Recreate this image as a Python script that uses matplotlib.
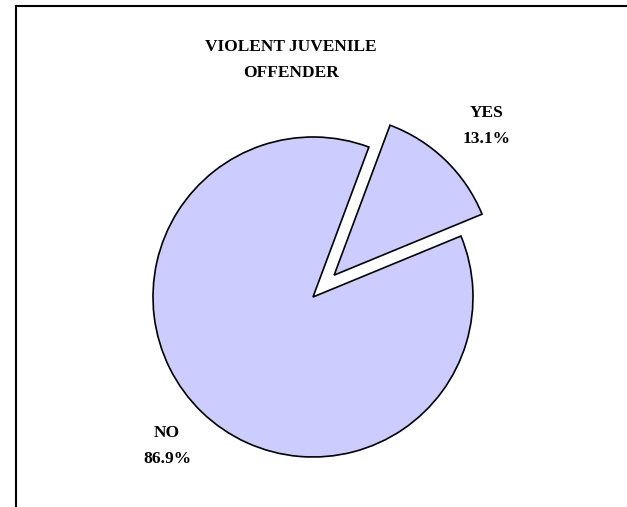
import matplotlib.pyplot as plt
from matplotlib.lines import Line2D

labels = ["YES", "NO"]
shares = [13.1, 86.9]
title = "VIOLENT JUVENILE\nOFFENDER"

W, H = 627, 507
cx, cy, r = 313, 297, 160   # pie centre and radius in pixels

def px(x, y):
    return (x - cx) / r, (cy - y) / r

fig = plt.figure(figsize=(W / 100, H / 100), dpi=100)
ax = fig.add_axes([0, 0, 1, 1])

ax.pie(shares, explode=[0.19, 0], startangle=22.4, counterclock=True,
       colors=["#CCCCFF", "#CCCCFF"],
       wedgeprops=dict(edgecolor="black", linewidth=1.2))

# pie() resets the limits, so set them afterwards
ax.set_xlim(-cx / r, (W - cx) / r)
ax.set_ylim(-(H - cy) / r, cy / r)
ax.set_aspect("equal")
ax.axis("off")

font = dict(family="Liberation Serif", fontweight="bold", fontsize=12.5,
            ha="center", va="center", linespacing=1.85)
label_pos = [(487, 126), (167, 446)]
for lab, val, (x, y) in zip(labels, shares, label_pos):
    ax.text(*px(x, y), f"{lab}\n{val}%", **font)

ax.text(*px(291, 60), title, **font)

# frame (only top and left edges visible)
fig.add_artist(Line2D([16 / W, 16 / W], [0, 1 - 6 / H], color="black", lw=1.5,
                      transform=fig.transFigure))
fig.add_artist(Line2D([16 / W, 1], [1 - 6 / H, 1 - 6 / H], color="black", lw=1.5,
                      transform=fig.transFigure))

fig.savefig("out.png", dpi=100, facecolor="white")
